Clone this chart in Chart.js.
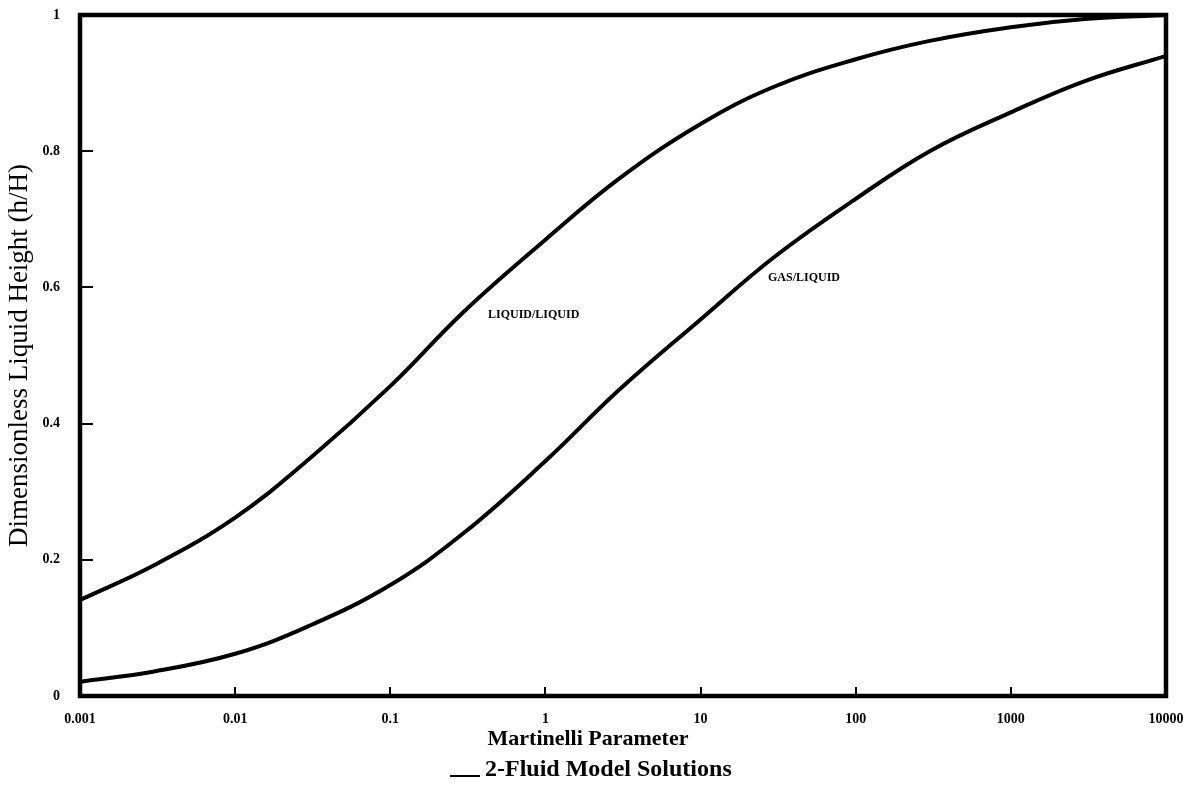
<!DOCTYPE html>
<html>
<head>
<meta charset="utf-8">
<script src="https://cdn.jsdelivr.net/npm/chart.js@4.4.0/dist/chart.umd.min.js"></script>
<style>
  html, body { margin: 0; padding: 0; background: #fff; }
  #wrap { width: 1198px; height: 810px; position: relative; }
</style>
</head>
<body>
<div id="wrap"><canvas id="chart" width="1198" height="810"></canvas></div>
<script>
// Martinelli parameter (x) and h/H
const martinelli = [0.001, 0.003, 0.01, 0.03, 0.1, 0.3, 1, 3, 10, 30, 100, 300, 1000, 3000, 10000];
const liquidLiquid = [0.141, 0.192, 0.262, 0.348, 0.455, 0.565, 0.67, 0.76, 0.84, 0.895, 0.935, 0.962, 0.982, 0.994, 1.0];
const gasLiquid = [0.021, 0.036, 0.062, 0.103, 0.163, 0.24, 0.345, 0.45, 0.553, 0.645, 0.73, 0.80, 0.857, 0.903, 0.94];

const xTicks = [0.001, 0.01, 0.1, 1, 10, 100, 1000, 10000];
const xTickLabels = ['0.001', '0.01', '0.1', '1', '10', '100', '1000', '10000'];
const yTicks = [0, 0.2, 0.4, 0.6, 0.8, 1];
const yTickLabels = ['0', '0.2', '0.4', '0.6', '0.8', '1'];

const serif = '"Liberation Serif", "DejaVu Serif", serif';

const toPoints = ys => martinelli.map((x, i) => ({ x: x, y: ys[i] }));

// frame, inward ticks, curve labels, x title and legend
const decor = {
  id: 'decor',
  afterDraw(chart) {
    const ctx = chart.ctx;
    const a = chart.chartArea;
    const xs = chart.scales.x, ys = chart.scales.y;
    ctx.save();
    ctx.strokeStyle = '#000';
    ctx.lineWidth = 2;
    xTicks.slice(1, -1).forEach(v => {
      const px = Math.round(xs.getPixelForValue(v));
      ctx.beginPath(); ctx.moveTo(px, a.bottom); ctx.lineTo(px, a.bottom - 9); ctx.stroke();
    });
    yTicks.slice(1, -1).forEach(v => {
      const py = Math.round(ys.getPixelForValue(v));
      ctx.beginPath(); ctx.moveTo(a.left, py); ctx.lineTo(a.left + 13, py); ctx.stroke();
    });
    ctx.lineWidth = 4.5;
    ctx.strokeRect(a.left, a.top, a.right - a.left, a.bottom - a.top);

    ctx.fillStyle = '#000';
    ctx.textBaseline = 'middle';
    ctx.textAlign = 'left';
    ctx.font = 'bold 12px ' + serif;
    ctx.fillText('LIQUID/LIQUID', 488, 315);
    ctx.fillText('GAS/LIQUID', 768, 278);

    ctx.textAlign = 'center';
    ctx.font = 'bold 22px ' + serif;
    ctx.fillText('Martinelli Parameter', 588, 739);

    ctx.textAlign = 'left';
    ctx.font = 'bold 24px ' + serif;
    ctx.fillText('2-Fluid Model Solutions', 485, 770);
    ctx.lineWidth = 2;
    ctx.beginPath(); ctx.moveTo(450, 776); ctx.lineTo(480, 776); ctx.stroke();
    ctx.restore();
  }
};

const lineStyle = {
  borderColor: '#000',
  borderWidth: 4,
  pointRadius: 0,
  fill: false,
  tension: 0.4
};

new Chart(document.getElementById('chart'), {
  type: 'line',
  data: {
    datasets: [
      Object.assign({ label: 'LIQUID/LIQUID', data: toPoints(liquidLiquid) }, lineStyle),
      Object.assign({ label: 'GAS/LIQUID', data: toPoints(gasLiquid) }, lineStyle)
    ]
  },
  options: {
    responsive: false,
    animation: false,
    layout: { padding: { left: 0, right: 32, top: 15, bottom: 0 } },
    plugins: { legend: { display: false }, tooltip: { enabled: false } },
    scales: {
      x: {
        type: 'logarithmic',
        min: 0.001,
        max: 10000,
        afterBuildTicks: s => { s.ticks = xTicks.map(v => ({ value: v })); },
        afterFit: s => { s.height = 810 - 696; s.paddingLeft = 0; s.paddingRight = 0; },
        grid: { display: false },
        border: { display: false },
        ticks: {
          color: '#000',
          padding: 7,
          maxRotation: 0,
          autoSkip: false,
          font: { family: serif, size: 14, weight: 'bold' },
          callback: (v, i) => xTickLabels[i]
        }
      },
      y: {
        min: 0,
        max: 1,
        afterBuildTicks: s => { s.ticks = yTicks.map(v => ({ value: v })); },
        afterFit: s => { s.width = 80; s.paddingTop = 0; s.paddingBottom = 0; },
        grid: { display: false },
        border: { display: false },
        title: {
          display: true,
          text: 'Dimensionless Liquid Height (h/H)',
          color: '#000',
          padding: { top: 4, bottom: 2 },
          font: { family: serif, size: 27 }
        },
        ticks: {
          color: '#000',
          padding: 12,
          font: { family: serif, size: 14, weight: 'bold' },
          callback: (v, i) => yTickLabels[i]
        }
      }
    }
  },
  plugins: [decor]
});
</script>
</body>
</html>
